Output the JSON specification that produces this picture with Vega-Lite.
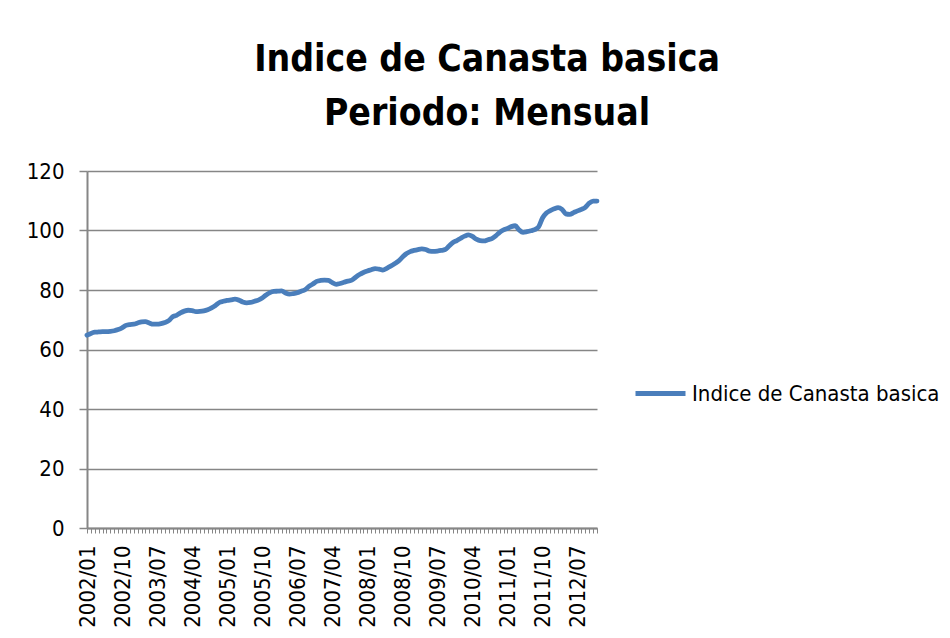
{
  "$schema": "https://vega.github.io/schema/vega-lite/v6.json",
  "width": 510,
  "height": 357,
  "autosize": {"type": "none"},
  "padding": {"left": 87, "top": 171, "right": 353, "bottom": 110},
  "background": "white",
  "title": {
    "text": ["Indice de Canasta basica", "Periodo: Mensual"],
    "font": "DejaVu Sans Condensed, sans-serif",
    "fontSize": 37,
    "fontWeight": "bold",
    "color": "#000000",
    "lineHeight": 54,
    "anchor": "middle",
    "dx": 145,
    "offset": 27
  },
  "data": {"values": [
    {"mes":"2002/01","valor":64.8},{"mes":"2002/02","valor":65.4},{"mes":"2002/03","valor":65.8},{"mes":"2002/04","valor":65.9},{"mes":"2002/05","valor":66.0},{"mes":"2002/06","valor":66.0},{"mes":"2002/07","valor":66.1},{"mes":"2002/08","valor":66.3},{"mes":"2002/09","valor":66.7},{"mes":"2002/10","valor":67.3},{"mes":"2002/11","valor":68.1},{"mes":"2002/12","valor":68.4},
    {"mes":"2003/01","valor":68.5},{"mes":"2003/02","valor":68.9},{"mes":"2003/03","valor":69.3},{"mes":"2003/04","valor":69.4},{"mes":"2003/05","valor":68.9},{"mes":"2003/06","valor":68.5},{"mes":"2003/07","valor":68.5},{"mes":"2003/08","valor":68.7},{"mes":"2003/09","valor":69.1},{"mes":"2003/10","valor":69.7},{"mes":"2003/11","valor":71.0},{"mes":"2003/12","valor":71.5},
    {"mes":"2004/01","valor":72.3},{"mes":"2004/02","valor":72.9},{"mes":"2004/03","valor":73.2},{"mes":"2004/04","valor":73.1},{"mes":"2004/05","valor":72.7},{"mes":"2004/06","valor":72.8},{"mes":"2004/07","valor":73.0},{"mes":"2004/08","valor":73.4},{"mes":"2004/09","valor":74.0},{"mes":"2004/10","valor":74.8},{"mes":"2004/11","valor":75.8},{"mes":"2004/12","valor":76.2},
    {"mes":"2005/01","valor":76.5},{"mes":"2005/02","valor":76.7},{"mes":"2005/03","valor":76.9},{"mes":"2005/04","valor":76.6},{"mes":"2005/05","valor":76.0},{"mes":"2005/06","valor":75.7},{"mes":"2005/07","valor":75.8},{"mes":"2005/08","valor":76.2},{"mes":"2005/09","valor":76.6},{"mes":"2005/10","valor":77.3},{"mes":"2005/11","valor":78.3},{"mes":"2005/12","valor":79.1},
    {"mes":"2006/01","valor":79.5},{"mes":"2006/02","valor":79.6},{"mes":"2006/03","valor":79.7},{"mes":"2006/04","valor":79.0},{"mes":"2006/05","valor":78.6},{"mes":"2006/06","valor":78.8},{"mes":"2006/07","valor":79.1},{"mes":"2006/08","valor":79.6},{"mes":"2006/09","valor":80.1},{"mes":"2006/10","valor":81.2},{"mes":"2006/11","valor":82.0},{"mes":"2006/12","valor":82.9},
    {"mes":"2007/01","valor":83.2},{"mes":"2007/02","valor":83.3},{"mes":"2007/03","valor":83.2},{"mes":"2007/04","valor":82.5},{"mes":"2007/05","valor":81.9},{"mes":"2007/06","valor":82.2},{"mes":"2007/07","valor":82.6},{"mes":"2007/08","valor":83.0},{"mes":"2007/09","valor":83.3},{"mes":"2007/10","valor":84.3},{"mes":"2007/11","valor":85.2},{"mes":"2007/12","valor":85.9},
    {"mes":"2008/01","valor":86.4},{"mes":"2008/02","valor":86.8},{"mes":"2008/03","valor":87.2},{"mes":"2008/04","valor":87.0},{"mes":"2008/05","valor":86.7},{"mes":"2008/06","valor":87.3},{"mes":"2008/07","valor":88.0},{"mes":"2008/08","valor":88.8},{"mes":"2008/09","valor":89.7},{"mes":"2008/10","valor":91.0},{"mes":"2008/11","valor":92.2},{"mes":"2008/12","valor":92.9},
    {"mes":"2009/01","valor":93.3},{"mes":"2009/02","valor":93.6},{"mes":"2009/03","valor":93.8},{"mes":"2009/04","valor":93.6},{"mes":"2009/05","valor":93.1},{"mes":"2009/06","valor":93.0},{"mes":"2009/07","valor":93.1},{"mes":"2009/08","valor":93.3},{"mes":"2009/09","valor":93.6},{"mes":"2009/10","valor":94.8},{"mes":"2009/11","valor":96.0},{"mes":"2009/12","valor":96.6},
    {"mes":"2010/01","valor":97.4},{"mes":"2010/02","valor":98.1},{"mes":"2010/03","valor":98.5},{"mes":"2010/04","valor":98.0},{"mes":"2010/05","valor":97.1},{"mes":"2010/06","valor":96.6},{"mes":"2010/07","valor":96.5},{"mes":"2010/08","valor":96.9},{"mes":"2010/09","valor":97.3},{"mes":"2010/10","valor":98.2},{"mes":"2010/11","valor":99.4},{"mes":"2010/12","valor":100.2},
    {"mes":"2011/01","valor":100.7},{"mes":"2011/02","valor":101.3},{"mes":"2011/03","valor":101.6},{"mes":"2011/04","valor":100.2},{"mes":"2011/05","valor":99.4},{"mes":"2011/06","valor":99.6},{"mes":"2011/07","valor":99.9},{"mes":"2011/08","valor":100.3},{"mes":"2011/09","valor":101.2},{"mes":"2011/10","valor":104.2},{"mes":"2011/11","valor":105.9},{"mes":"2011/12","valor":106.7},
    {"mes":"2012/01","valor":107.3},{"mes":"2012/02","valor":107.7},{"mes":"2012/03","valor":107.1},{"mes":"2012/04","valor":105.6},{"mes":"2012/05","valor":105.4},{"mes":"2012/06","valor":106.0},{"mes":"2012/07","valor":106.6},{"mes":"2012/08","valor":107.1},{"mes":"2012/09","valor":107.8},{"mes":"2012/10","valor":109.2},{"mes":"2012/11","valor":109.9},{"mes":"2012/12","valor":109.9}
  ]},
  "mark": {"type": "line", "strokeWidth": 4.8, "strokeCap": "round", "strokeJoin": "round", "interpolate": "monotone"},
  "encoding": {
    "x": {
      "field": "mes",
      "type": "ordinal",
      "sort": null,
      "scale": {"type": "point", "padding": 0},
      "axis": {
        "title": null,
        "labelAngle": -90,
        "labelAlign": "right",
        "labelBaseline": "middle",
        "labelOverlap": false,
        "labelExpr": "((toNumber(substring(datum.label,0,4))-2002)*12 + toNumber(substring(datum.label,5,7)) - 1) % 9 == 0 ? datum.label : ''",
        "labelFont": "DejaVu Sans Condensed, sans-serif",
        "labelFontSize": 22,
        "labelColor": "#000000",
        "labelPadding": 12,
        "tickSize": 5,
        "tickColor": "#868686",
        "tickWidth": 1,
        "domainColor": "#868686",
        "domainWidth": 2,
        "grid": false
      }
    },
    "y": {
      "field": "valor",
      "type": "quantitative",
      "scale": {"domain": [0, 120], "nice": false, "zero": true},
      "axis": {
        "title": null,
        "values": [0, 20, 40, 60, 80, 100, 120],
        "labelFont": "DejaVu Sans Condensed, sans-serif",
        "labelFontSize": 22,
        "labelColor": "#000000",
        "labelPadding": 15,
        "tickSize": 8,
        "tickColor": "#868686",
        "tickWidth": 1.5,
        "domainColor": "#868686",
        "domainWidth": 2,
        "grid": true,
        "gridColor": "#868686",
        "gridWidth": 1.5
      }
    },
    "color": {
      "datum": "Indice de Canasta basica",
      "type": "nominal",
      "scale": {"range": ["#4A7EBB"]},
      "legend": {
        "title": null,
        "orient": "none",
        "legendX": 546,
        "legendY": 195,
        "padding": 0,
        "symbolType": "stroke",
        "symbolSize": 2500,
        "symbolStrokeWidth": 5,
        "labelFont": "DejaVu Sans Condensed, sans-serif",
        "labelFontSize": 22,
        "labelColor": "#000000",
        "labelOffset": 4,
        "labelLimit": 400
      }
    }
  },
  "config": {
    "view": {"stroke": null}
  }
}
